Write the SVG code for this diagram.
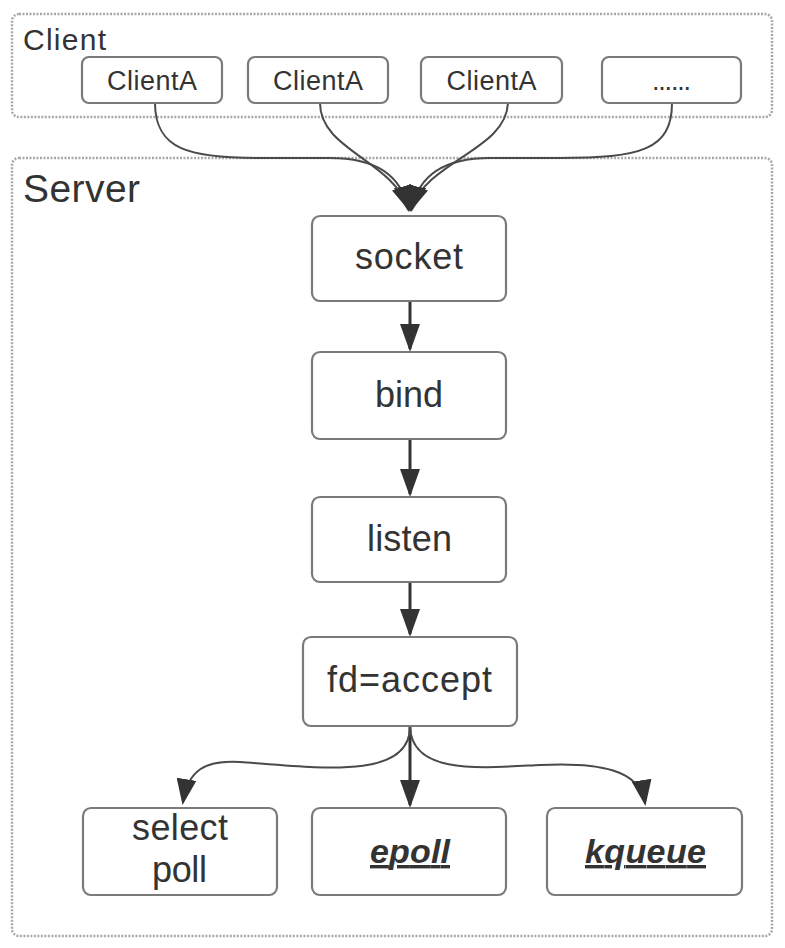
<svg xmlns="http://www.w3.org/2000/svg" width="785" height="948" viewBox="0 0 785 948">
<style>
.container{fill:none;stroke:#a8a8a8;stroke-width:2.5;stroke-dasharray:2 1.5}
.box{fill:#fff;stroke:#7a7a7a;stroke-width:2.2}
.t{font-family:"Liberation Sans",Arial,sans-serif;fill:#333;text-anchor:middle}
.big{font-size:36px}
.small{font-size:27px}
.bi{font-size:34px;font-weight:bold;font-style:italic;text-decoration:underline}
.title{font-family:"Liberation Sans",Arial,sans-serif;fill:#333}
.curve{fill:none;stroke:#4a4a4a;stroke-width:2}
.straight{fill:none;stroke:#333;stroke-width:3}
</style>
<defs>
<marker id="ah" markerUnits="userSpaceOnUse" markerWidth="28" markerHeight="20" refX="25" refY="10" orient="auto">
<path d="M0,0 L28,10 L0,20 z" fill="#333"/>
</marker>
<marker id="ahc" markerUnits="userSpaceOnUse" markerWidth="26" markerHeight="20" refX="23" refY="10" orient="auto">
<path d="M0,0 L26,10 L0,20 z" fill="#333"/>
</marker>
</defs>
<rect width="785" height="948" fill="#fff"/>

<g id="client-group">
<rect class="container" x="12" y="14" width="760" height="103" rx="7"/>
<text class="title" x="23" y="50" font-size="30" textLength="83">Client</text>
</g>
<g id="server-group">
<rect class="container" x="12" y="158" width="760" height="778" rx="7"/>
<text class="title" x="23" y="202" font-size="39" textLength="117">Server</text>
</g>

<g id="connectors">
<path class="curve" d="M155,103 C155,150 190,158 260,158 L330,158 C380,158 402,178 408,209" marker-end="url(#ahc)"/>
<path class="curve" d="M320,103 C320,150 392,160 409,209" marker-end="url(#ahc)"/>
<path class="curve" d="M508,103 C506,150 428,160 411,209" marker-end="url(#ahc)"/>
<path class="curve" d="M672,103 C672,150 640,158 560,158 L490,158 C440,158 418,178 412,209" marker-end="url(#ahc)"/>
<path class="straight" d="M410,301 L410,349" marker-end="url(#ah)"/>
<path class="straight" d="M410,439 L410,494" marker-end="url(#ah)"/>
<path class="straight" d="M410,582 L410,634" marker-end="url(#ah)"/>
<path class="straight" d="M410,726 L410,805" marker-end="url(#ah)"/>
<path class="curve" d="M410,727 C410,780 320,768 240,762 C205,760 188,770 183,802" marker-end="url(#ahc)"/>
<path class="curve" d="M410,727 C412,775 480,768 540,765 C600,762 640,770 645,803" marker-end="url(#ahc)"/>
</g>

<g id="clientA1">
<rect class="box" x="82" y="57" width="140" height="46" rx="7"/>
<text class="t small" x="152" y="90" textLength="90">ClientA</text>
</g>
<g id="clientA2">
<rect class="box" x="248" y="57" width="140" height="46" rx="7"/>
<text class="t small" x="318" y="90" textLength="90">ClientA</text>
</g>
<g id="clientA3">
<rect class="box" x="421" y="57" width="141" height="46" rx="7"/>
<text class="t small" x="491.5" y="90" textLength="90">ClientA</text>
</g>
<g id="clientMore">
<rect class="box" x="602" y="57" width="139" height="46" rx="7"/>
<text class="t small" x="671.5" y="90" textLength="39">......</text>
</g>

<g id="socket">
<rect class="box" x="312" y="216" width="194" height="85" rx="8"/>
<text class="t big" x="409" y="269" textLength="108">socket</text>
</g>
<g id="bind">
<rect class="box" x="312" y="352" width="194" height="87" rx="8"/>
<text class="t big" x="409" y="407" textLength="68">bind</text>
</g>
<g id="listen">
<rect class="box" x="312" y="497" width="194" height="85" rx="8"/>
<text class="t big" x="409.5" y="551" textLength="85">listen</text>
</g>
<g id="accept">
<rect class="box" x="303" y="637" width="214" height="89" rx="8"/>
<text class="t big" x="409.5" y="692" textLength="165">fd=accept</text>
</g>
<g id="selectpoll">
<rect class="box" x="83" y="808" width="194" height="87" rx="8"/>
<text class="t big" x="180" y="840" textLength="96">select</text>
<text class="t big" x="179.5" y="882" textLength="55">poll</text>
</g>
<g id="epoll">
<rect class="box" x="312" y="808" width="194" height="87" rx="8"/>
<text class="t bi" x="410" y="863" textLength="80">epoll</text>
</g>
<g id="kqueue">
<rect class="box" x="547" y="808" width="195" height="87" rx="8"/>
<text class="t bi" x="645.5" y="863" textLength="121">kqueue</text>
</g>
</svg>
